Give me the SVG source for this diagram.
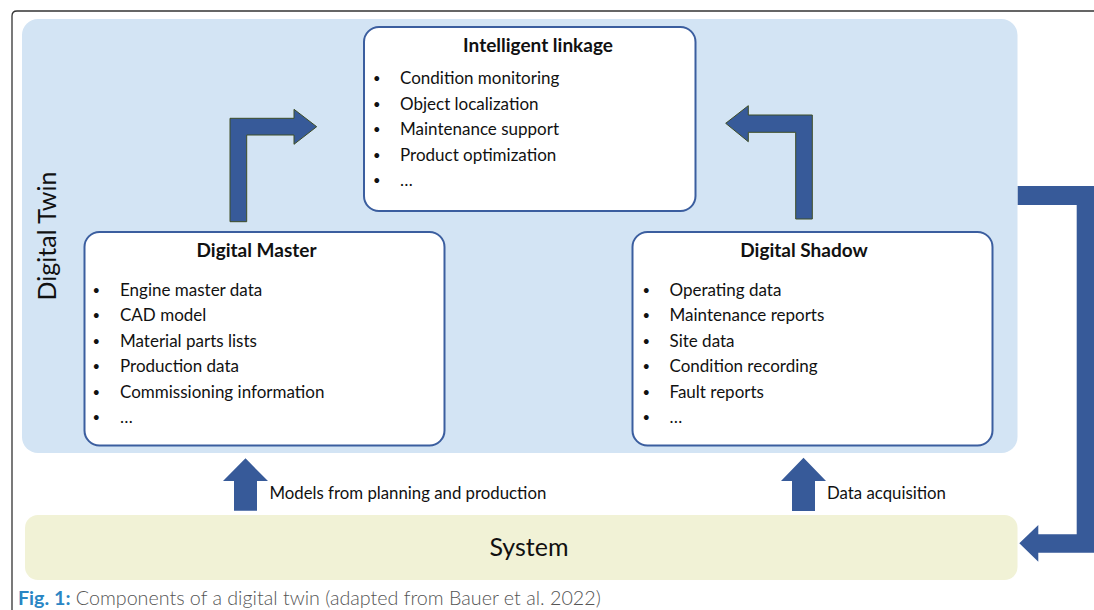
<svg xmlns="http://www.w3.org/2000/svg" width="1094" height="610" viewBox="0 0 1094 610">
  <style>
    .frame { fill: none; stroke: #333333; stroke-width: 1.3; }
    .panel { fill: #D3E4F4; }
    .system { fill: #F1F2D6; }
    .box { fill: #FFFFFF; stroke: #3B5E9F; stroke-width: 2; }
    .bent { fill: #375A99; stroke: #3F4E26; stroke-width: 1; }
    .solid { fill: #375A99; }
    text { font-family: Lato, "Liberation Sans", sans-serif; fill: #111111; }
    .title { font-size: 19px; font-weight: bold; text-anchor: middle; }
    .item { font-size: 17px; }
    .bul { font-size: 13px; }
    .label { font-size: 16.8px; }
    .big { font-size: 25px; }
    .cap { font-size: 19.7px; font-weight: 300; fill: #555555; }
    .capb { font-weight: bold; fill: #2A86C4; }
  </style>

  <!-- page frame -->
  <path class="frame" d="M12,610 V16 Q12,11 17,11 H1094"/>

  <!-- digital twin panel and system bar -->
  <g id="digital-twin">
    <rect class="panel" x="22" y="19" width="995.5" height="434" rx="16"/>
    <text class="big" transform="translate(56,236) rotate(-90)" text-anchor="middle">Digital Twin</text>
  </g>

  <g id="system">
    <rect class="system" x="25" y="515" width="992.5" height="65" rx="13"/>
    <text class="big" x="529" y="556" text-anchor="middle">System</text>
  </g>

  <!-- connectors -->
  <g id="connectors">
    <path class="bent" d="M230,221.7 V118.3 H294 V109.3 L316.7,126.7 L294,144.3 V135 H246.7 V221.7 Z"/>
    <path class="bent" d="M812.3,219 V115 H748.3 V105.7 L725.7,123.3 L748.3,141.7 V132.3 H795.7 V219 Z"/>
    <path class="solid" d="M1017.7,186 H1095 V552.7 H1038.3 V561.7 L1019.3,543.3 L1038.3,525 V534.3 H1076.7 V205 H1017.7 Z"/>
    <path class="solid" d="M245.5,458.3 L268,481 H257 V510.7 H234 V481 H223 Z"/>
    <path class="solid" d="M803.5,457.7 L826,481 H815 V511 H792 V481 H781 Z"/>
    <text class="label" x="269.5" y="499">Models from planning and production</text>
    <text class="label" x="827" y="499">Data acquisition</text>
  </g>

  <!-- intelligent linkage -->
  <g id="intelligent-linkage">
    <rect class="box" x="364" y="27" width="331.5" height="184" rx="15"/>
    <text class="title" x="538" y="52">Intelligent linkage</text>
    <g class="bul">
      <text x="373" y="83">•</text>
      <text x="373" y="108.5">•</text>
      <text x="373" y="134">•</text>
      <text x="373" y="159.5">•</text>
      <text x="373" y="185">•</text>
    </g>
    <g class="item">
      <text x="400" y="84">Condition monitoring</text>
      <text x="400" y="109.5">Object localization</text>
      <text x="400" y="135">Maintenance support</text>
      <text x="400" y="160.5">Product optimization</text>
      <text x="400" y="186">…</text>
    </g>
  </g>

  <!-- digital master -->
  <g id="digital-master">
    <rect class="box" x="84.5" y="232" width="360" height="213.5" rx="15"/>
    <text class="title" x="256.5" y="256.5">Digital Master</text>
    <g class="bul">
      <text x="92.5" y="294.5">•</text>
      <text x="92.5" y="320">•</text>
      <text x="92.5" y="345.5">•</text>
      <text x="92.5" y="371">•</text>
      <text x="92.5" y="396.5">•</text>
      <text x="92.5" y="422">•</text>
    </g>
    <g class="item">
      <text x="120" y="295.5">Engine master data</text>
      <text x="120" y="321">CAD model</text>
      <text x="120" y="346.5">Material parts lists</text>
      <text x="120" y="372">Production data</text>
      <text x="120" y="397.5">Commissioning information</text>
      <text x="120" y="423">…</text>
    </g>
  </g>

  <!-- digital shadow -->
  <g id="digital-shadow">
    <rect class="box" x="632.5" y="232" width="360" height="213.5" rx="15"/>
    <text class="title" x="804" y="257">Digital Shadow</text>
    <g class="bul">
      <text x="642.5" y="294.5">•</text>
      <text x="642.5" y="320">•</text>
      <text x="642.5" y="345.5">•</text>
      <text x="642.5" y="371">•</text>
      <text x="642.5" y="396.5">•</text>
      <text x="642.5" y="422">•</text>
    </g>
    <g class="item">
      <text x="669.5" y="295.5">Operating data</text>
      <text x="669.5" y="321">Maintenance reports</text>
      <text x="669.5" y="346.5">Site data</text>
      <text x="669.5" y="372">Condition recording</text>
      <text x="669.5" y="397.5">Fault reports</text>
      <text x="669.5" y="423">…</text>
    </g>
  </g>

  <!-- caption -->
  <text class="cap" x="18" y="605"><tspan class="capb">Fig. 1:</tspan> Components of a digital twin (adapted from Bauer et al. 2022)</text>
</svg>
